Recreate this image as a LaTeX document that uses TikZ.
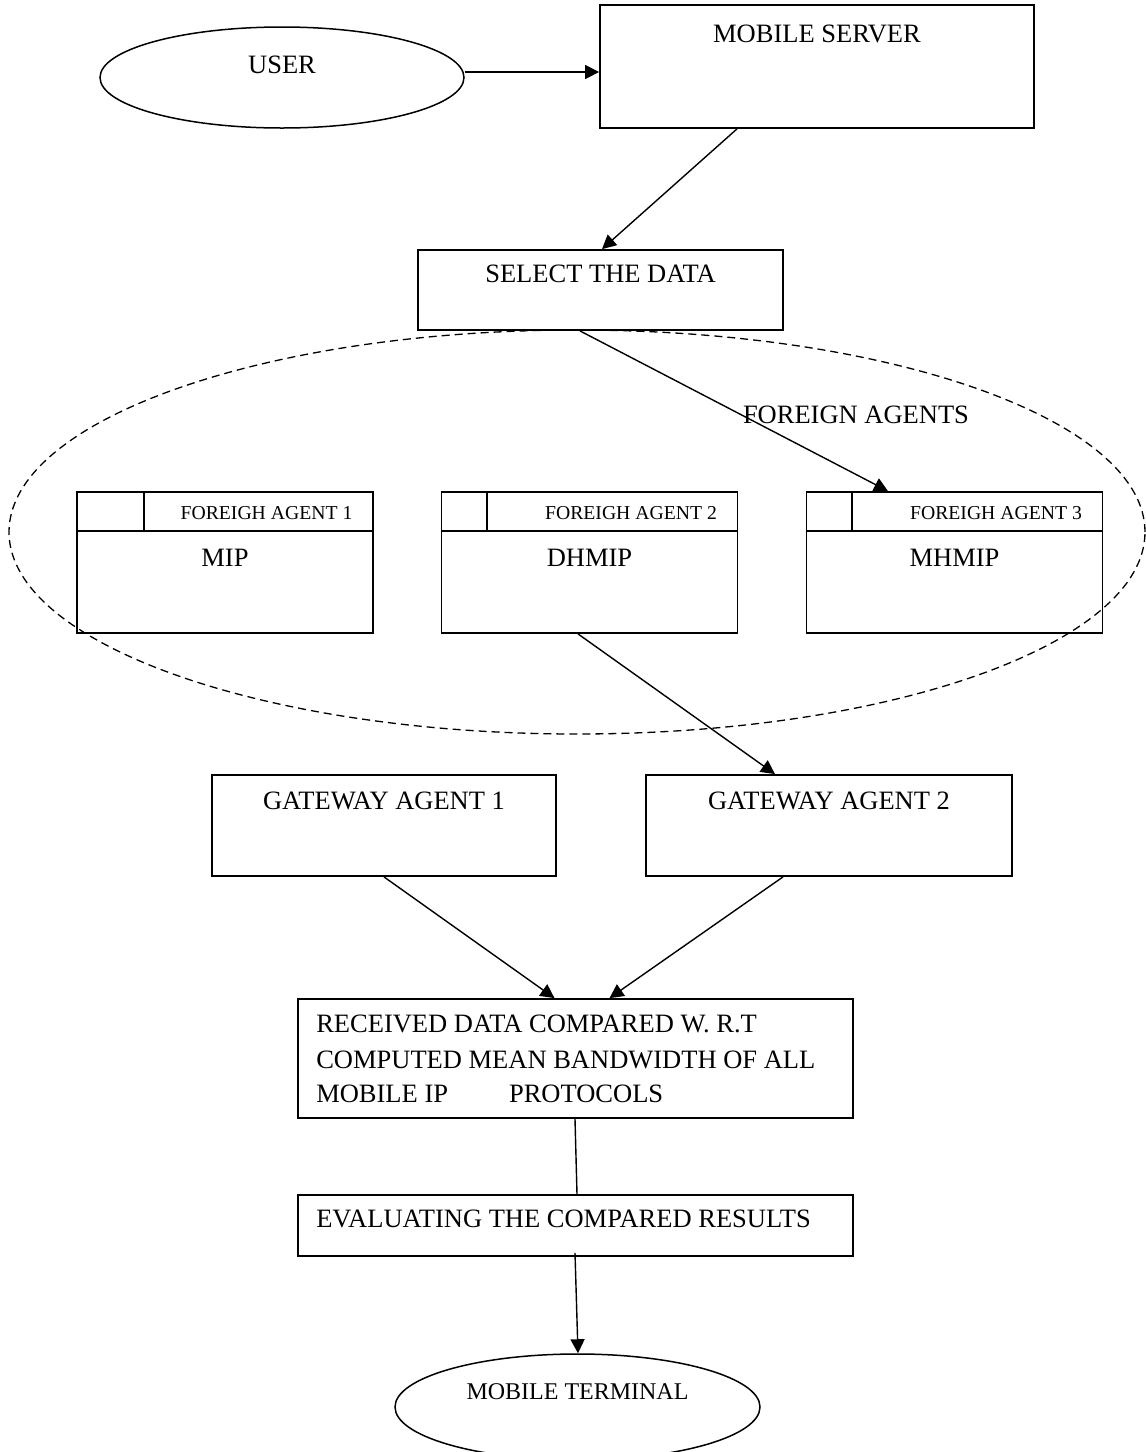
\documentclass[tikz,border=0pt]{standalone}
\usepackage{fontspec}
\setmainfont{Liberation Serif}
\usetikzlibrary{shapes.geometric,arrows.meta,calc}
\tikzset{
  box/.style={draw, line width=1.8pt, rectangle, inner sep=0pt},
  oval/.style={draw, line width=1.5pt, ellipse, inner sep=0pt},
  conn/.style={line width=1.4pt},
  arr/.style={conn, -{Triangle[length=14pt,width=14pt]}},
  txt/.style={font=\fontsize{26.5}{35}\selectfont, inner sep=0pt, anchor=base},
  ltxt/.style={txt, anchor=base west},
  small/.style={font=\fontsize{19.7}{24}\selectfont, inner sep=0pt, anchor=base},
}
\begin{document}
\begin{tikzpicture}[x=1pt,y=-1pt]
\useasboundingbox (0,0) rectangle (1146,1452);
% dashed ellipse round the foreign agents
\node[draw, dash pattern=on 8pt off 5pt, line width=1.3pt, ellipse, minimum width=1136, minimum height=404] (fe) at (577,532) {};
% user and mobile server
\node[oval, minimum width=364, minimum height=101] (us) at (282,77.5) {};
\node[txt] (ust) at ($(us.center)+(0,-4.5)$) {USER};
\node[box, minimum width=434, minimum height=123] (ms) at (817,66.5) {};
\node[txt] (mst) at ($(ms.north)+(0,38)$) {MOBILE SERVER};
% select
\node[box, minimum width=365, minimum height=80] (sel) at (600.5,290) {};
\node[txt] (selt) at ($(sel.north)+(0,33)$) {SELECT THE DATA};
\node[txt] (fal) at (856,423) {FOREIGN AGENTS};
% foreign agents
\foreach \n/\cx/\dv/\tx/\lab in {1/225/68/MIP/FOREIGH AGENT 1, 2/589.5/46/DHMIP/FOREIGH AGENT 2, 3/954.5/46/MHMIP/FOREIGH AGENT 3}{
  \node[box, minimum width=296, minimum height=141] (fa\n) at (\cx,562.5) {};
  \draw[line width=1.8pt] ($(fa\n.north west)+(0,40)$) coordinate (h\n) -- ($(fa\n.north east)+(0,40)$);
  \draw[line width=1.8pt] ($(fa\n.north west)+(\dv,0)$) -- ($(h\n)+(\dv,0)$);
  \node[small] (fah\n) at ($(fa\n.north)+(41.5,28)$) {\lab};
  \node[txt] (fab\n) at ($(fa\n.north)+(0,75)$) {\tx};
}
% gateways
\node[box, minimum width=344, minimum height=101] (gw1) at (384,825.5) {};
\node[txt] (gw1t) at ($(gw1.north)+(0,35)$) {GATEWAY AGENT 1};
\node[box, minimum width=366, minimum height=101] (gw2) at (829,825.5) {};
\node[txt] (gw2t) at ($(gw2.north)+(0,35)$) {GATEWAY AGENT 2};
% received
\node[box, minimum width=555, minimum height=119] (rc) at (575.5,1058.5) {};
\node[ltxt] (rc1) at ($(rc.north west)+(19,34)$) {RECEIVED DATA COMPARED W. R.T};
\node[ltxt] (rc2) at ($(rc.north west)+(19,70)$) {COMPUTED MEAN BANDWIDTH OF ALL};
\node[ltxt] (rc3) at ($(rc.north west)+(19,104)$) {MOBILE IP\hspace{61pt}PROTOCOLS};
% evaluating
\node[box, minimum width=555, minimum height=61] (ev) at (575.5,1225.5) {};
\node[ltxt] (evt) at ($(ev.north west)+(19,33)$) {EVALUATING THE COMPARED RESULTS};
% mobile terminal
\node[oval, minimum width=365, minimum height=106] (mt) at (577.5,1407) {};
\node[font=\fontsize{24}{28}\selectfont, inner sep=0pt, anchor=base] (mtt) at ($(mt.center)+(0,-8)$) {MOBILE TERMINAL};
% connectors
\draw[arr] ($(us.east)+(0,-5.5)$) -- ($(us.east -| ms.west)+(0,-5.5)$);
\draw[arr] ($(ms.south)+(-80,0)$) -- ($(sel.north)+(1.5,0)$);
\draw[arr] ($(sel.south)+(-20.5,0)$) -- ($(fa3.north)+(-66.5,0)$);
\draw[arr] ($(fa2.south)+(-11.5,0)$) -- ($(gw2.north)+(-54,0)$);
\draw[arr] (gw1.south) -- ($(rc.north)+(-21,0)$);
\draw[arr] ($(gw2.south)+(-46,0)$) -- ($(rc.north)+(34,0)$);
\draw[conn] ($(rc.south)+(-0.5,0)$) -- ($(ev.north)+(1.5,0)$);
\draw[arr] ($(ev.south)+(-0.5,-4)$) -- ($(mt.north)+(0.5,0)$);
\end{tikzpicture}
\end{document}
